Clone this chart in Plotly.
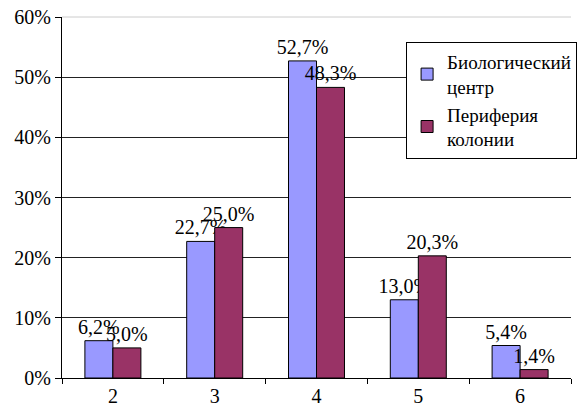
import plotly.graph_objects as go

categories = ["2", "3", "4", "5", "6"]
bio_center = [0.062, 0.227, 0.527, 0.130, 0.054]
periphery = [0.050, 0.250, 0.483, 0.203, 0.014]
series_names = ["Биологический<br>центр", "Периферия<br>колонии"]
y_ticks = [0, 0.1, 0.2, 0.3, 0.4, 0.5, 0.6]

FONT = "'Times New Roman', 'Liberation Serif', 'DejaVu Serif', serif"
FS = 20

fig = go.Figure()
for name, vals, color in [(series_names[0], bio_center, "#9999FF"),
                          (series_names[1], periphery, "#993366")]:
    fig.add_trace(go.Bar(
        x=categories, y=vals, name=name,
        marker=dict(color=color, line=dict(color="black", width=1)),
        texttemplate="%{y:.1%}", textposition="outside",
        constraintext="none", cliponaxis=False,
        textfont=dict(family=FONT, size=FS, color="black"),
    ))

fig.update_layout(
    width=582, height=414,
    margin=dict(l=62, r=5, t=17, b=36),
    paper_bgcolor="white", plot_bgcolor="white",
    separators=", ",
    barmode="group", bargap=0.45, bargroupgap=0,
    font=dict(family=FONT, size=FS, color="black"),
    showlegend=True,
    legend=dict(x=0.676, y=0.931, xanchor="left", yanchor="top",
                bgcolor="white", bordercolor="black", borderwidth=1,
                font=dict(family=FONT, size=FS - 1, color="black"),
                itemwidth=30, tracegroupgap=2),
    xaxis=dict(type="category", showline=True, linecolor="black", linewidth=1,
               ticks="outside", tickson="boundaries", ticklen=5, tickcolor="black",
               showgrid=False, tickfont=dict(family=FONT, size=FS)),
    yaxis=dict(range=[0, 0.6], tickvals=y_ticks, tickformat=".0%",
               showline=True, linecolor="black", linewidth=1,
               ticks="outside", ticklen=6, tickcolor="black",
               showgrid=True, gridcolor="#222", gridwidth=1, zeroline=False,
               tickfont=dict(family=FONT, size=FS)),
)
fig.add_shape(type="line", xref="paper", yref="paper", x0=0, x1=1, y0=1, y1=1,
              line=dict(color="#cccccc", width=1), layer="above")

fig.write_html("out.html")
